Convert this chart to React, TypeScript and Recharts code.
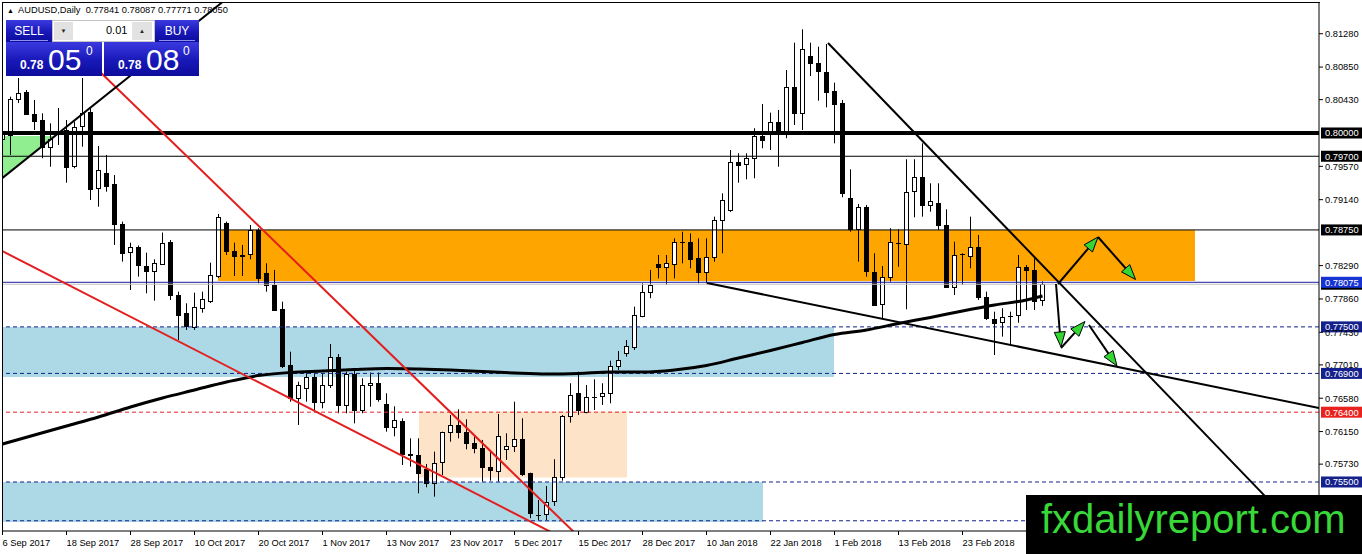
import React from "react";
import { Bar, ComposedChart, Line, ReferenceArea, ReferenceLine, XAxis, YAxis } from "recharts";

// AUDUSD daily candles, 6 Sep 2017 – early Mar 2018
const tickLabels = [
  "6 Sep 2017", "18 Sep 2017", "28 Sep 2017", "10 Oct 2017", "20 Oct 2017", "1 Nov 2017",
  "13 Nov 2017", "23 Nov 2017", "5 Dec 2017", "15 Dec 2017", "28 Dec 2017", "10 Jan 2018",
  "22 Jan 2018", "1 Feb 2018", "13 Feb 2018", "23 Feb 2018",
];

const opens = [
  0.79923, 0.79974, 0.80435, 0.80533, 0.80245, 0.80168, 0.79816, 0.8, 0.80039, 0.79565,
  0.80081, 0.80275, 0.79287, 0.7948, 0.79342, 0.78827, 0.78457, 0.78534, 0.78285, 0.78224,
  0.7832, 0.78598, 0.77911, 0.77675, 0.77495, 0.77739, 0.77838, 0.78156, 0.78836, 0.78478,
  0.78427, 0.7844, 0.78749, 0.7819, 0.7804, 0.77727, 0.7701, 0.76579, 0.76708, 0.76858,
  0.76535, 0.7675, 0.77116, 0.76493, 0.76893, 0.76428, 0.76747, 0.76773, 0.76506, 0.76205,
  0.7629, 0.75861, 0.75848, 0.75664, 0.75491, 0.75749, 0.7614, 0.76231, 0.7614, 0.75999,
  0.75935, 0.7569, 0.75646, 0.75922, 0.75955, 0.7605, 0.75612, 0.75075, 0.75087, 0.75246,
  0.75561, 0.7635, 0.76644, 0.76407, 0.766, 0.766, 0.76644, 0.76996, 0.77172, 0.77245,
  0.77631, 0.77946, 0.78311, 0.78268, 0.7832, 0.78598, 0.78598, 0.78384, 0.78199, 0.78397,
  0.78878, 0.79007, 0.7963, 0.796, 0.79674, 0.79961, 0.80004, 0.80146, 0.80004, 0.80589,
  0.80254, 0.80993, 0.80906, 0.8079, 0.80545, 0.80383, 0.79158, 0.78758, 0.79042, 0.78212,
  0.77791, 0.78147, 0.78578, 0.78578, 0.79243, 0.79437, 0.79072, 0.79101, 0.78814, 0.78018,
  0.7844, 0.78414, 0.78526, 0.77882, 0.77598, 0.77554, 0.7764, 0.77653, 0.78268, 0.78234,
  0.77841,
];
const highs = [
  0.80193, 0.80468, 0.80709, 0.80554, 0.80426, 0.80254, 0.80125, 0.80322, 0.80168, 0.80146,
  0.80709, 0.80318, 0.79832, 0.79716, 0.79458, 0.78857, 0.78586, 0.7855, 0.78457, 0.78371,
  0.78716, 0.7862, 0.77954, 0.77804, 0.77941, 0.77954, 0.78328, 0.78956, 0.78857, 0.78586,
  0.78556, 0.78814, 0.78771, 0.7832, 0.78234, 0.77825, 0.7718, 0.76793, 0.76901, 0.76905,
  0.76901, 0.77279, 0.7715, 0.76922, 0.76944, 0.76837, 0.76911, 0.76911, 0.76644, 0.76476,
  0.7632, 0.76063, 0.76063, 0.75732, 0.75891, 0.76149, 0.76364, 0.76437, 0.76308, 0.76085,
  0.76042, 0.75891, 0.76377, 0.76128, 0.76535, 0.76321, 0.7562, 0.75268, 0.75448, 0.75793,
  0.76364, 0.76773, 0.76922, 0.7675, 0.76824, 0.76773, 0.77064, 0.77189, 0.77331, 0.77761,
  0.78062, 0.78234, 0.78427, 0.78427, 0.78642, 0.78727, 0.78706, 0.78642, 0.78642, 0.78921,
  0.79222, 0.79781, 0.79738, 0.79738, 0.80061, 0.80374, 0.80262, 0.80297, 0.80812, 0.81164,
  0.81337, 0.81164, 0.81113, 0.81148, 0.80649, 0.80426, 0.79532, 0.79085, 0.79071, 0.78449,
  0.78285, 0.78771, 0.78758, 0.79661, 0.79661, 0.79867, 0.79351, 0.79351, 0.79016, 0.78598,
  0.78449, 0.78921, 0.78685, 0.77954, 0.77696, 0.7774, 0.77696, 0.78427, 0.78298, 0.78384,
  0.78087,
];
const lows = [
  0.79613, 0.79716, 0.80387, 0.80232, 0.80039, 0.79674, 0.79565, 0.79845, 0.79359, 0.79545,
  0.79823, 0.79136, 0.7905, 0.79243, 0.78556, 0.78341, 0.77976, 0.78148, 0.77933, 0.77838,
  0.78298, 0.77847, 0.77331, 0.7746, 0.7746, 0.77683, 0.77808, 0.7813, 0.78427, 0.78156,
  0.78156, 0.78371, 0.78062, 0.77954, 0.77705, 0.7697, 0.76535, 0.76235, 0.76535, 0.76428,
  0.7645, 0.76712, 0.76386, 0.76386, 0.76256, 0.76386, 0.76471, 0.76535, 0.76149, 0.76089,
  0.75719, 0.75698, 0.75354, 0.75432, 0.75311, 0.7559, 0.7602, 0.76063, 0.75921, 0.7587,
  0.75504, 0.75517, 0.75504, 0.75784, 0.75887, 0.75577, 0.75032, 0.7501, 0.7501, 0.75191,
  0.75517, 0.76265, 0.76364, 0.76386, 0.76428, 0.76493, 0.76515, 0.76944, 0.77116, 0.77202,
  0.77624, 0.77869, 0.78126, 0.7804, 0.78126, 0.7832, 0.78255, 0.78062, 0.78062, 0.7834,
  0.78449, 0.78981, 0.79359, 0.79403, 0.79416, 0.79803, 0.79781, 0.79565, 0.79932, 0.80103,
  0.80039, 0.80735, 0.80416, 0.80331, 0.79867, 0.79171, 0.78727, 0.78341, 0.78147, 0.77769,
  0.77611, 0.78083, 0.78276, 0.77727, 0.78913, 0.78921, 0.78985, 0.78749, 0.78001, 0.77911,
  0.7804, 0.78255, 0.77847, 0.77589, 0.77137, 0.77374, 0.77266, 0.77554, 0.77718, 0.77718,
  0.77771,
];
const closes = [
  0.8, 0.80435, 0.80512, 0.80245, 0.80159, 0.79823, 0.79919, 0.79985, 0.79558, 0.80073,
  0.80254, 0.79287, 0.79523, 0.79317, 0.78823, 0.78457, 0.78526, 0.78307, 0.78224, 0.78328,
  0.78586, 0.77911, 0.77653, 0.77502, 0.77753, 0.77856, 0.78169, 0.78913, 0.7847, 0.78414,
  0.7842, 0.78749, 0.78126, 0.7804, 0.77718, 0.76996, 0.76579, 0.7675, 0.7685, 0.76535,
  0.7675, 0.77116, 0.76493, 0.76893, 0.76428, 0.7675, 0.76773, 0.76566, 0.76205, 0.76299,
  0.75861, 0.75853, 0.7562, 0.75483, 0.75749, 0.7614, 0.76231, 0.7614, 0.75999, 0.75935,
  0.7569, 0.75646, 0.76097, 0.75964, 0.7605, 0.75603, 0.75096, 0.75071, 0.75246, 0.75561,
  0.7635, 0.76622, 0.76428, 0.766, 0.76596, 0.76644, 0.76996, 0.77073, 0.77257, 0.77653,
  0.77946, 0.7804, 0.78268, 0.7832, 0.78598, 0.78594, 0.78384, 0.78199, 0.78397, 0.78878,
  0.79136, 0.7963, 0.79587, 0.79674, 0.79961, 0.7991, 0.80146, 0.80004, 0.80589, 0.80254,
  0.81079, 0.80906, 0.80803, 0.80533, 0.80383, 0.79222, 0.78758, 0.79042, 0.78212, 0.77791,
  0.78139, 0.78598, 0.78574, 0.79243, 0.79429, 0.79072, 0.79123, 0.78814, 0.78018, 0.78427,
  0.78436, 0.78526, 0.77882, 0.77611, 0.77546, 0.77624, 0.77636, 0.78268, 0.78234, 0.77838,
  0.7805,
];

// moving average, read every 4th bar
const maIndex = [
  0, 4, 8, 12, 16, 20, 24, 28, 32, 36, 40, 44, 48, 52, 56, 60, 64,
  68, 72, 76, 80, 84, 88, 92, 96, 100, 104, 108, 112, 116, 120, 124, 128, 130,
];
const maValues = [
  0.7599, 0.76106, 0.76222, 0.76338, 0.76467, 0.76583, 0.76686, 0.76789, 0.76873, 0.76912,
  0.76931, 0.76951, 0.76964, 0.76957, 0.76944, 0.76925, 0.76905, 0.76892, 0.76899, 0.76918,
  0.76918, 0.76944, 0.77002, 0.77099, 0.77196, 0.77299, 0.77402, 0.7746, 0.77544, 0.77622,
  0.77705, 0.77782, 0.77847, 0.77898,
];

const priceTicks = [
  0.8128, 0.8085, 0.8043, 0.7957, 0.7914, 0.7829, 0.7786, 0.7743, 0.7701, 0.7658, 0.7615, 0.7573,
];

// zones: [x1 bar, x2 bar, low price, high price]
const supplyZone = [26.94, 149.06, 0.7809, 0.7875];
const blueZoneUpper = [-0.0625, 103.94, 0.76854, 0.775];
const blueZoneLower = [-0.0625, 95.06, 0.74984, 0.755];
const peachZone = [52.06, 78.06, 0.75558, 0.7641];
const greenWedge = [-0.0625, 6.6, 0.7942, 0.79961];

// trend lines: [bar, price] -> [bar, price]
const blackTrends = [
  [[0, 0.7942], [28, 0.8173]],
  [[103.19, 0.8116], [160.94, 0.74984]],
  [[88.06, 0.78066], [164.56, 0.76454]],
];
const redTrends = [
  [[7.19, 0.81289], [72.19, 0.74778]],
  [[-0.0625, 0.78479], [69.69, 0.74795]],
];
const arrows = [
  [[131.94, 0.78053], [136.94, 0.78659]],
  [[136.94, 0.78659], [141.63, 0.78111]],
  [[131.69, 0.78053], [132.31, 0.77241]],
  [[132.31, 0.77228], [135.31, 0.77569]],
  [[135.81, 0.77524], [139.31, 0.76996]],
];

const X_DOMAIN = [-0.0625, 164.5625];
const Y_DOMAIN = [0.74868, 0.81689];
const FONT = '"Liberation Sans", Arial, sans-serif';
const NAVY = "#14208c";

const rows = opens.map((o, i) => ({ i, open: o, high: highs[i], low: lows[i], close: closes[i] }));
const maRows = maIndex.map((i, k) => ({ i, ma: maValues[k] }));

function Candle(props: any) {
  const { x, y, width, height, payload } = props;
  if (!payload || x == null) return null;
  const { open, close, high, low } = payload;
  const top = Math.min(y, y + height);
  const h = Math.abs(height);
  const k = high === low ? 0 : h / (high - low);
  const cx = Math.round(x + width / 2);
  const yo = top + (high - open) * k;
  const yc = top + (high - close) * k;
  const bTop = Math.round(Math.min(yo, yc));
  const bH = Math.round(Math.abs(yo - yc));
  const up = close >= open;
  return (
    <g>
      <line x1={cx + 0.5} x2={cx + 0.5} y1={top} y2={top + h} stroke="#000" />
      {bH < 1 ? (
        <line x1={cx - 2} x2={cx + 3} y1={bTop + 0.5} y2={bTop + 0.5} stroke="#000" />
      ) : (
        <rect x={cx - 1.5} y={bTop + 0.5} width={4} height={bH} fill={up ? "#fff" : "#000"} stroke="#000" />
      )}
    </g>
  );
}

function DateTick({ x, y, payload }: any) {
  return (
    <text x={x} y={y} dy="0.71em" textAnchor="start" fontSize={9.3} fontFamily={FONT} fill="#000">
      {tickLabels[Math.round(payload.value / 8)]}
    </text>
  );
}

function PriceTag({ viewBox, text, bg }: any) {
  if (!viewBox) return null;
  const x = viewBox.x + viewBox.width + 2;
  const y = viewBox.y;
  return (
    <g>
      <rect x={x} y={y - 5.5} width={41} height={11} fill={bg} />
      {text ? (
        <text x={x + 4} y={y} dy="0.36em" fontSize={9.3} fontFamily={FONT} fill="#fff">
          {text}
        </text>
      ) : null}
    </g>
  );
}

function ArrowShape(props: any) {
  const { x1, y1, x2, y2 } = props;
  const a = Math.atan2(y2 - y1, x2 - x1);
  const len = 15;
  const half = 5.5;
  const bx = x2 - len * Math.cos(a);
  const by = y2 - len * Math.sin(a);
  const px = -Math.sin(a) * half;
  const py = Math.cos(a) * half;
  return (
    <g>
      <line x1={x1} y1={y1} x2={bx} y2={by} stroke="#000" strokeWidth={2} />
      <polygon
        points={`${x2},${y2} ${bx + px},${by + py} ${bx - px},${by - py}`}
        fill="#33d633"
        stroke="#000"
        strokeWidth={1}
      />
    </g>
  );
}

function Wedge(props: any) {
  const { x, y, width, height } = props;
  return <polygon points={`${x},${y} ${x + width},${y} ${x},${y + height}`} fill="#90ee90" />;
}

const blueBox: React.CSSProperties = {
  position: "absolute",
  background: "linear-gradient(#3a3ae0, #1818b8 55%, #0c0c9c)",
  color: "#fff",
  fontFamily: FONT,
};

function TradePanel() {
  const abs = (l: number, t: number, extra: React.CSSProperties = {}): React.CSSProperties => ({
    position: "absolute",
    left: l,
    top: t,
    lineHeight: 1,
    whiteSpace: "nowrap",
    ...extra,
  });
  return (
    <>
      <div style={abs(7, 7, { fontSize: 7, fontFamily: FONT })}>▲</div>
      <div style={abs(18, 5.6, { fontSize: 9.3, fontFamily: FONT })}>
        AUDUSD,Daily&nbsp; 0.77841 0.78087 0.77771 0.78050
      </div>
      {/* sell / buy buttons */}
      <div style={{ ...blueBox, left: 6, top: 20, width: 46, height: 22 }}>
        <div style={abs(0, 5, { width: 46, textAlign: "center", fontSize: 12 })}>SELL</div>
        <div style={{ position: "absolute", left: 4, right: 4, bottom: 1, height: 1, background: "#8f8ff0" }} />
      </div>
      <div
        style={{
          position: "absolute", left: 52, top: 20, width: 101, height: 20,
          background: "#fff", border: "1px solid #c4c4c4",
        }}
      />
      <div
        style={{
          position: "absolute", left: 54, top: 22, width: 19, height: 18, background: "#e2e2e2",
          fontSize: 6, textAlign: "center", lineHeight: "18px", color: "#222", fontFamily: FONT,
        }}
      >
        ▼
      </div>
      <div style={abs(106, 25, { fontSize: 11, fontFamily: FONT, color: "#000" })}>0.01</div>
      <div
        style={{
          position: "absolute", left: 132, top: 22, width: 20, height: 18, background: "#e2e2e2",
          fontSize: 6, textAlign: "center", lineHeight: "18px", color: "#222", fontFamily: FONT,
        }}
      >
        ▲
      </div>
      <div style={{ ...blueBox, left: 155, top: 20, width: 44, height: 22 }}>
        <div style={abs(0, 5, { width: 44, textAlign: "center", fontSize: 12 })}>BUY</div>
        <div style={{ position: "absolute", left: 4, right: 4, bottom: 1, height: 1, background: "#8f8ff0" }} />
      </div>
      {/* quotes */}
      <div style={{ ...blueBox, left: 6, top: 42, width: 96, height: 34 }} />
      <div style={{ ...blueBox, left: 104, top: 42, width: 95, height: 34 }} />
      <div style={abs(20, 58.8, { fontSize: 12, fontWeight: 700, color: "#fff", fontFamily: FONT })}>0.78</div>
      <div style={abs(48, 44.6, { fontSize: 30, color: "#fff", fontFamily: FONT })}>05</div>
      <div style={abs(86, 44.8, { fontSize: 12, color: "#fff", fontFamily: FONT })}>0</div>
      <div style={abs(118, 58.8, { fontSize: 12, fontWeight: 700, color: "#fff", fontFamily: FONT })}>0.78</div>
      <div style={abs(146, 44.6, { fontSize: 30, color: "#fff", fontFamily: FONT })}>08</div>
      <div style={abs(183, 44.8, { fontSize: 12, color: "#fff", fontFamily: FONT })}>0</div>
    </>
  );
}

export default function App() {
  return (
    <div
      style={{
        position: "absolute", left: 0, top: 0, width: 1362, height: 554,
        background: "#fff", overflow: "hidden", fontFamily: FONT,
      }}
    >
      <ComposedChart width={1362} height={554} data={rows} margin={{ top: 2, right: 0, bottom: 0, left: 2 }}>
        <XAxis
          type="number"
          dataKey="i"
          domain={X_DOMAIN}
          allowDataOverflow
          ticks={tickLabels.map((_, k) => k * 8)}
          interval={0}
          tick={<DateTick />}
          tickSize={4}
          tickMargin={4}
          height={23}
          axisLine={{ stroke: "#000" }}
          tickLine={{ stroke: "#000" }}
        />
        <YAxis
          orientation="right"
          type="number"
          domain={Y_DOMAIN}
          allowDataOverflow
          ticks={priceTicks}
          interval={0}
          tickFormatter={(v: number) => v.toFixed(5)}
          tick={{ fontSize: 9.3, fill: "#000", fontFamily: FONT }}
          tickSize={4}
          tickMargin={2}
          width={43}
          axisLine={{ stroke: "#000" }}
          tickLine={{ stroke: "#000" }}
        />

        {/* zones */}
        <ReferenceArea x1={blueZoneUpper[0]} x2={blueZoneUpper[1]} y1={blueZoneUpper[2]} y2={blueZoneUpper[3]} fill="#add8e6" fillOpacity={1} ifOverflow="hidden" />
        <ReferenceArea x1={blueZoneLower[0]} x2={blueZoneLower[1]} y1={blueZoneLower[2]} y2={blueZoneLower[3]} fill="#add8e6" fillOpacity={1} ifOverflow="hidden" />
        <ReferenceArea x1={peachZone[0]} x2={peachZone[1]} y1={peachZone[2]} y2={peachZone[3]} fill="#fde3c7" fillOpacity={1} ifOverflow="hidden" />
        <ReferenceArea x1={supplyZone[0]} x2={supplyZone[1]} y1={supplyZone[2]} y2={supplyZone[3]} fill="#ffa500" fillOpacity={1} ifOverflow="hidden" />
        <ReferenceArea x1={greenWedge[0]} x2={greenWedge[1]} y1={greenWedge[2]} y2={greenWedge[3]} shape={<Wedge />} ifOverflow="hidden" />

        {/* horizontal levels */}
        <ReferenceLine y={0.8} stroke="#000" strokeWidth={4} label={<PriceTag text="0.80000" bg="#000" />} />
        <ReferenceLine y={0.797} stroke="#000" label={<PriceTag text="0.79700" bg="#000" />} />
        <ReferenceLine y={0.7875} stroke="#000" label={<PriceTag text="0.78750" bg="#000" />} />
        <ReferenceLine y={0.7805} stroke="#c0c0c0" label={<PriceTag text="" bg="#000" />} />
        <ReferenceLine y={0.78075} stroke="#1c1ca0" label={<PriceTag text="0.78075" bg="#1733d2" />} />
        <ReferenceLine y={0.775} stroke={NAVY} strokeDasharray="4 3" label={<PriceTag text="0.77500" bg={NAVY} />} />
        <ReferenceLine y={0.769} stroke={NAVY} strokeDasharray="4 3" label={<PriceTag text="0.76900" bg={NAVY} />} />
        <ReferenceLine y={0.764} stroke="#e0262a" strokeDasharray="4 3" label={<PriceTag text="0.76400" bg="#e8231f" />} />
        <ReferenceLine y={0.755} stroke={NAVY} strokeDasharray="4 3" label={<PriceTag text="0.75500" bg={NAVY} />} />
        <ReferenceLine y={0.75} stroke={NAVY} strokeDasharray="4 3" />

        <Bar dataKey={(d: any) => [d.low, d.high]} barSize={5} shape={<Candle />} isAnimationActive={false} />
        <Line data={maRows} dataKey="ma" type="monotone" stroke="#000" strokeWidth={3} dot={false} activeDot={false} isAnimationActive={false} />

        {redTrends.map((s, k) => (
          <ReferenceLine
            key={`r${k}`}
            segment={[{ x: s[0][0], y: s[0][1] }, { x: s[1][0], y: s[1][1] }]}
            stroke="#e31e1e"
            strokeWidth={2}
            ifOverflow="hidden"
          />
        ))}
        {blackTrends.map((s, k) => (
          <ReferenceLine
            key={`b${k}`}
            segment={[{ x: s[0][0], y: s[0][1] }, { x: s[1][0], y: s[1][1] }]}
            stroke="#000"
            strokeWidth={2}
            ifOverflow="hidden"
          />
        ))}
        {arrows.map((s, k) => (
          <ReferenceLine
            key={`a${k}`}
            segment={[{ x: s[0][0], y: s[0][1] }, { x: s[1][0], y: s[1][1] }]}
            shape={<ArrowShape />}
            ifOverflow="hidden"
          />
        ))}
      </ComposedChart>

      {/* top & left frame */}
      <div style={{ position: "absolute", left: 2, top: 2, width: 1317, height: 529, borderTop: "1px solid #000", borderLeft: "1px solid #000", pointerEvents: "none" }} />

      <TradePanel />

      <div style={{ position: "absolute", left: 1026, top: 495, width: 336, height: 59, background: "#000" }} />
      <div
        style={{
          position: "absolute", left: 1041, top: 499, fontSize: 40, lineHeight: 1,
          color: "#38d838", fontFamily: FONT, whiteSpace: "nowrap",
        }}
      >
        fxdailyreport.com
      </div>
    </div>
  );
}
